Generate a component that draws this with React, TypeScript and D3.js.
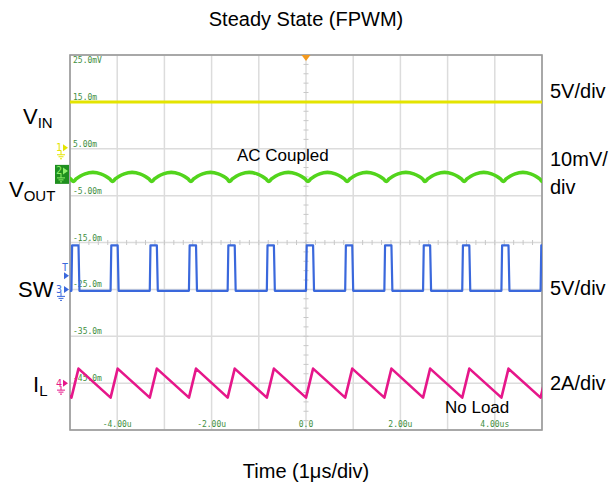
import React from "react";
import * as d3 from "d3";

// ---- data ----
const timeTickValues = [-4, -2, 0, 2, 4];
const timeTickLabels = ["-4.00u", "-2.00u", "0.0", "2.00u", "4.00us"];
const gridLevelLabels = ["25.0mV", "15.0m", "5.00m", "-5.00m", "-15.0m", "-25.0m", "-35.0m", "-45.0m"];
const rightScaleLabels = ["5V/div", "10mV/", "5V/div", "2A/div"];
const vinLevelV = 5.0;
const swRiseTimesUs = [-4.97, -4.14, -3.31, -2.48, -1.66, -0.83, 0, 0.83, 1.66, 2.48, 3.31, 4.14, 4.97];
const swPeriodUs = 0.828;
const swOnTimeUs = 0.15;
const swHighV = 4.7;
const swLowV = -0.15;
const ilPeakA = 0.62;
const ilValleyA = -0.62;
const voutRipplePhase = [0.05, 0.12, 0.22, 0.35, 0.55, 0.75, 0.88, 0.98];
const voutRippleMv = [-1.0, -0.45, 0.15, 0.65, 0.95, 0.65, 0.15, -0.45];

// channel placement: ground offset (divisions from centre) and units per division
const CH1 = { off: 2.0, perDiv: 5, color: "#e4e400" };
const CH2 = { off: 1.4, perDiv: 10, color: "#52d41c" };
const CH3 = { off: -1.0, perDiv: 5, color: "#3a68dc" };
const CH4 = { off: -3.0, perDiv: 2, color: "#e6178a" };

const W = 612, H = 485;
const L = 70, R = 542, T = 55, B = 430;

export default function App() {
  const x = d3.scaleLinear().domain([-5, 5]).range([L, R]);
  const yDiv = d3.scaleLinear().domain([-4, 4]).range([B, T]);
  const yc = (ch: any, v: number) => yDiv(ch.off + v / ch.perDiv);

  const line = d3.line<[number, number]>().x((d) => d[0]).y((d) => d[1]);

  const vinPts: [number, number][] = [[x(-5), yc(CH1, vinLevelV)], [x(5), yc(CH1, vinLevelV)]];

  const swPts: [number, number][] = [[x(-5), yc(CH3, swLowV)]];
  swRiseTimesUs.forEach((t) => {
    swPts.push([x(t), yc(CH3, swLowV)]);
    swPts.push([x(t + 0.015), yc(CH3, swHighV)]);
    swPts.push([x(t + swOnTimeUs), yc(CH3, swHighV)]);
    swPts.push([x(t + swOnTimeUs + 0.02), yc(CH3, swLowV)]);
  });
  swPts.push([x(5.2), yc(CH3, swLowV)]);

  const ilPts: [number, number][] = [[x(swRiseTimesUs[0] - swPeriodUs + swOnTimeUs), yc(CH4, ilPeakA)]];
  swRiseTimesUs.forEach((t) => {
    ilPts.push([x(t), yc(CH4, ilValleyA)]);
    ilPts.push([x(t + swOnTimeUs), yc(CH4, ilPeakA)]);
  });

  const starts = [swRiseTimesUs[0] - swPeriodUs, ...swRiseTimesUs];
  const voutPts: [number, number][] = [];
  starts.forEach((t) => {
    voutRipplePhase.forEach((p, i) => {
      voutPts.push([x(t + p * swPeriodUs), yc(CH2, voutRippleMv[i])]);
    });
  });
  const smooth = d3.line<[number, number]>().x((d) => d[0]).y((d) => d[1]).curve(d3.curveMonotoneX);

  const vDivs = d3.range(0, 11);
  const hDivs = d3.range(0, 9);
  const minorV = d3.range(1, 40).map((i) => T + (i * (B - T)) / 40);
  const minorH = d3.range(1, 50).map((i) => L + (i * (R - L)) / 50);
  const xc = x(0), ycen = yDiv(0);

  const ground = (gx: number, gy: number, color: string) => (
    <g stroke={color} strokeWidth={1}>
      <line x1={gx} y1={gy} x2={gx} y2={gy + 4} />
      <line x1={gx - 4} y1={gy + 4} x2={gx + 4} y2={gy + 4} />
      <line x1={gx - 2.5} y1={gy + 6} x2={gx + 2.5} y2={gy + 6} />
      <line x1={gx - 1} y1={gy + 8} x2={gx + 1} y2={gy + 8} />
    </g>
  );
  const arrow = (ax: number, ay: number, color: string) => (
    <path d={`M${ax},${ay - 3.5}L${ax + 5},${ay}L${ax},${ay + 3.5}Z`} fill={color} />
  );

  const sans = "'Liberation Sans', Arial, sans-serif";
  const mono = "'DejaVu Sans Mono', monospace";

  return (
    <svg width={W} height={H} style={{ position: "absolute", left: 0, top: 0, background: "#fff" }}>
      <defs>
        <clipPath id="plotClip">
          <rect x={L} y={T} width={R - L} height={B - T} />
        </clipPath>
      </defs>
      <rect x={0} y={0} width={W} height={H} fill="#fff" />
      <g stroke="#dcdcdc" strokeWidth={1.5}>
        {vDivs.map((i) => (
          <line key={"v" + i} x1={L + (i * (R - L)) / 10} x2={L + (i * (R - L)) / 10} y1={T} y2={B} />
        ))}
        {hDivs.map((i) => (
          <line key={"h" + i} x1={L} x2={R} y1={T + (i * (B - T)) / 8} y2={T + (i * (B - T)) / 8} />
        ))}
      </g>
      <g stroke="#c8c8c8" strokeWidth={1}>
        {minorV.map((v, i) => (
          <line key={"mv" + i} x1={xc - 2.5} x2={xc + 2.5} y1={v} y2={v} />
        ))}
        {minorH.map((v, i) => (
          <line key={"mh" + i} x1={v} x2={v} y1={ycen - 2.5} y2={ycen + 2.5} />
        ))}
      </g>
      <rect x={L} y={T} width={R - L} height={B - T} fill="none" stroke="#999" strokeWidth={1.6} />

      <g fontFamily={mono} fontSize={8} fill="#3e8e3e">
        {gridLevelLabels.map((s, i) => {
          const gy = T + (i * (B - T)) / 8;
          return (
            <text key={s} x={L + 3} y={i === 0 ? gy + 8 : gy - 2}>
              {s}
            </text>
          );
        })}
        {timeTickValues.map((t, i) => (
          <text key={t} x={x(t)} y={B - 3} textAnchor="middle">
            {timeTickLabels[i]}
          </text>
        ))}
      </g>

      <g clipPath="url(#plotClip)" fill="none" strokeLinejoin="round">
        <path d={line(vinPts) || ""} stroke={CH1.color} strokeWidth={3} />
        <path d={smooth(voutPts) || ""} stroke={CH2.color} strokeWidth={3.6} />
        <path d={line(swPts) || ""} stroke={CH3.color} strokeWidth={2.2} />
        <path d={line(ilPts) || ""} stroke={CH4.color} strokeWidth={2.6} />
      </g>

      <path d={`M${xc - 4.5},${T}L${xc + 4.5},${T}L${xc},${T + 6}Z`} fill="#f39a1e" />

      <g fontFamily={mono} fontSize={10}>
        <text x={56} y={yc(CH1, 0) + 2} fill={CH1.color}>1</text>
        {arrow(63, yc(CH1, 0) - 1, CH1.color)}
        {ground(61, yc(CH1, 0) + 2, CH1.color)}

        <rect x={55} y={yc(CH2, 0) - 12} width={14} height={19} fill="#1f8f1f" />
        <text x={56} y={yc(CH2, 0) - 3} fill="#8ff06a">2</text>
        {arrow(63, yc(CH2, 0) - 6, "#8ff06a")}
        {ground(61, yc(CH2, 0) - 3, "#8ff06a")}

        <text x={62} y={yDiv(-0.6)} fill={CH3.color}>T</text>
        {arrow(64, yDiv(-0.6) + 5, CH3.color)}
        <text x={56} y={yc(CH3, 0) + 4} fill={CH3.color}>3</text>
        {arrow(64, yc(CH3, 0), CH3.color)}
        {ground(61, yc(CH3, 0) + 3, CH3.color)}

        <text x={56} y={yc(CH4, 0) + 4} fill={CH4.color}>4</text>
        {arrow(63, yc(CH4, 0), CH4.color)}
        {ground(61, yc(CH4, 0) + 3, CH4.color)}
      </g>

      <g fontFamily={sans} fill="#000">
        <text x={306} y={26} fontSize={20} textAnchor="middle">Steady State (FPWM)</text>
        <text x={306} y={478} fontSize={20} textAnchor="middle">Time (1μs/div)</text>

        <text x={23} y={124} fontSize={22}>V<tspan fontSize={15} dy={4}>IN</tspan></text>
        <text x={9} y={197} fontSize={22}>V<tspan fontSize={15} dy={4}>OUT</tspan></text>
        <text x={18} y={297} fontSize={22}>SW</text>
        <text x={33} y={392} fontSize={22}>I<tspan fontSize={15} dy={4}>L</tspan></text>

        <text x={550} y={98} fontSize={20}>{rightScaleLabels[0]}</text>
        <text x={550} y={166} fontSize={20}>{rightScaleLabels[1]}</text>
        <text x={550} y={194} fontSize={20}>div</text>
        <text x={550} y={295} fontSize={20}>{rightScaleLabels[2]}</text>
        <text x={550} y={390} fontSize={20}>{rightScaleLabels[3]}</text>

        <text x={237} y={161} fontSize={17}>AC Coupled</text>
        <text x={445} y={413} fontSize={17}>No Load</text>
      </g>
    </svg>
  );
}
